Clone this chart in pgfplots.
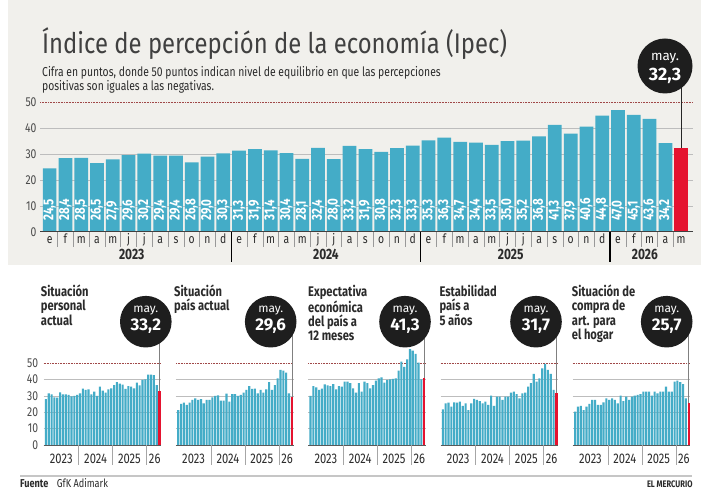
\documentclass[border=0pt]{standalone}
\usepackage{pgfplots}
\pgfplotsset{compat=1.18}
\usepackage{pgfplotstable}
\usepackage{fontspec}
\setmainfont{Fira Sans}
\newfontfamily\cnd{Fira Sans}[FakeStretch=0.8]
\newfontfamily\ttl{Fira Sans}[FakeStretch=0.84]
\definecolor{bg}{HTML}{F1F0EC}
\definecolor{barblue}{HTML}{44ACC7}
\definecolor{barred}{HTML}{E5132F}
\definecolor{txt}{HTML}{2B2B2B}
\definecolor{ticktxt}{HTML}{4A4A4A}
\definecolor{gridc}{HTML}{BDBDBD}
\definecolor{dotred}{HTML}{A04848}
\definecolor{circ}{HTML}{1E1E1E}
\newcommand\fs[1]{\fontsize{#1}{#1}\selectfont}

% Situacion personal actual
\pgfplotstableread[row sep=\\]{
v\\28\\31.6\\31\\29.2\\29\\32.2\\31\\31\\30.6\\29.8\\30\\30.6\\
31.6\\34.5\\33.7\\34\\31\\32.6\\30\\35.7\\33.3\\32\\34\\34.7\\
36.7\\38.4\\37.6\\37\\34.3\\36\\35.7\\34.7\\38.2\\36.5\\39.8\\40.2\\
43\\43\\42.7\\36.7\\
}\pa
% Situacion pais actual
\pgfplotstableread[row sep=\\]{
v\\21.4\\25.1\\25.9\\24.5\\25.9\\27.6\\28.6\\27.6\\28\\25.5\\27.6\\27.6\\
29.2\\30\\30.4\\27.1\\27.1\\31.4\\26.5\\31.2\\31.2\\30\\30.6\\32\\
33.7\\36.1\\34.3\\34.5\\31.6\\33.7\\32\\34\\38.4\\33.7\\36.7\\40.8\\
45.9\\45.5\\44.3\\31.6\\
}\pb
% Expectativa economica del pais a 12 meses
\pgfplotstableread[row sep=\\]{
v\\30\\36.1\\35.3\\33.7\\34.5\\37.1\\36.5\\36.1\\37.3\\34\\36.1\\35.7\\
38.8\\38.8\\37.8\\34.7\\32\\37.8\\32.7\\38.8\\37.8\\34.7\\36.7\\39.4\\
40.8\\41.4\\38.2\\39.8\\40.2\\40.4\\40.8\\45.5\\51\\47.8\\52.4\\58.6\\
57.8\\55.7\\50.4\\40.2\\
}\pc
% Estabilidad pais a 5 anos
\pgfplotstableread[row sep=\\]{
v\\21.8\\25.5\\25.9\\23.5\\26.1\\25.9\\26.5\\23.9\\25.5\\21.4\\25.5\\28.2\\
27.6\\26.9\\25.5\\26.5\\24.5\\30.2\\23.9\\29.6\\29.6\\27.6\\29.6\\29.6\\
32\\32.7\\31.2\\28.6\\31.6\\32\\35.7\\37.8\\43.5\\38.8\\40.8\\46.9\\
49.6\\45.9\\43.5\\33.7\\
}\pd
% Situacion de compra de art. para el hogar
\pgfplotstableread[row sep=\\]{
v\\20.4\\23.5\\23.9\\21.4\\23.5\\25.1\\27.6\\27.6\\24.5\\24.5\\26.1\\28.6\\
27.6\\28.6\\27.6\\25.5\\30.2\\26.9\\29.6\\27.6\\29.6\\30.2\\30.6\\31.2\\
32.7\\32.7\\32.7\\30.2\\32.7\\31.6\\32.7\\32.7\\35.7\\32.7\\32.7\\38.8\\
39.4\\38.4\\37.3\\28.6\\
}\pe

\pgfplotsset{
 smallax/.style={anchor=south west, width=117.6bp, height=98.04bp, scale only axis,
  xmin=-0.8, xmax=40.6, ymin=0, ymax=60, clip=false,
  axis line style={draw=none}, tick style={draw=none},
  xtick=\empty, ytick={0,10,20,30,40}, extra y ticks={50},
  extra y tick style={grid=major, grid style={densely dotted, dotred, line width=0.6pt}},
  ymajorgrids, grid style={gridc, line width=0.6pt},
  yticklabel style={font=\cnd\fs{13}, text=ticktxt, xshift=-2bp},
  /pgf/number format/assume math mode=true},
 nolab/.style={yticklabels={}, extra y tick labels={}}
}

% #1 axis x, #2 table, #3 red value, #4 circle x, #5 title x, #6 title, #7 value text, #8 extra opts
\newcommand\smallpanel[8]{%
\begin{axis}[smallax, at={(#1bp,46bp)}, #8]
\addplot[ybar, bar width=0.74, bar shift=0pt, fill=barblue, draw=none] table[x expr=\coordindex, y=v]{#2};
\addplot[ybar, bar width=0.74, bar shift=0pt, fill=barred, draw=none] coordinates {(40,#3)};
\draw[black!65, line width=0.8pt] (axis cs:-0.8,0) -- (axis cs:40.6,0);
\draw[gray!70, line width=0.6pt] (axis cs:11.5,0) -- ([yshift=-20bp]axis cs:11.5,0);
\draw[gray!70, line width=0.6pt] (axis cs:23.5,0) -- ([yshift=-20bp]axis cs:23.5,0);
\draw[gray!70, line width=0.6pt] (axis cs:35.5,0) -- ([yshift=-20bp]axis cs:35.5,0);
\node[font=\cnd\fs{14}, text=txt, anchor=base] at ([yshift=-18.5bp]axis cs:5.4,0) {2023};
\node[font=\cnd\fs{14}, text=txt, anchor=base] at ([yshift=-18.5bp]axis cs:17.5,0) {2024};
\node[font=\cnd\fs{14}, text=txt, anchor=base] at ([yshift=-18.5bp]axis cs:29.4,0) {2025};
\node[font=\cnd\fs{14}, text=txt, anchor=base] at ([yshift=-18.5bp]axis cs:38.3,0) {26};
\coordinate (rt) at (axis cs:40,#3);
\end{axis}
\draw[gray, line width=0.7pt] (rt) -- (rt |- 0,169.3);
\fill[circ] (#4,169.3) circle (25.8);
\node[white, font=\fs{12}, inner sep=0] at (#4,180.5) {may.};
\node[white, font=\bfseries\fs{17}, inner sep=0] at (#4,165.2) {#7};
\node[anchor=base west, font=\cnd\bfseries\fontsize{14}{14.3}\selectfont, text=txt, inner sep=0] at (#5,194.3)
  {\parbox[t]{120bp}{\raggedright #6}};
}

\begin{document}
\begin{tikzpicture}[x=1bp,y=1bp]
\path[use as bounding box] (0,0) rectangle (707,491);
\fill[white] (0,0) rectangle (707,491);
\fill[bg] (8,226) rectangle (701,491);

\node[anchor=base west, inner sep=0, font=\ttl\fs{28.5}, text=txt!90] at (42,437) {Índice de percepción de la economía (Ipec)};
\node[anchor=base west, inner sep=0, font=\cnd\fs{13}, text=txt] at (42,414)
 {Cifra en puntos, donde 50 puntos indican nivel de equilibrio en que las percepciones};
\node[anchor=base west, inner sep=0, font=\cnd\fs{13}, text=txt] at (42,400)
 {positivas son iguales a las negativas.};

\begin{axis}[
  at={(40bp,259.3bp)}, anchor=south west, width=653bp, height=129.4bp, scale only axis,
  xmin=-0.61, xmax=40.75, ymin=0, ymax=50, clip=false,
  axis line style={draw=none}, tick style={draw=none},
  ytick={0,10,20,30,40}, extra y ticks={50},
  extra y tick style={grid=major, grid style={densely dotted, dotred, line width=0.6pt}},
  ymajorgrids, grid style={gridc, line width=0.6pt},
  xtick={0,...,40},
  xticklabels={e,f,m,a,m,j,j,a,s,o,n,d,e,f,m,a,m,j,j,a,s,o,n,d,e,f,m,a,m,j,j,a,s,o,n,d,e,f,m,a,m},
  xticklabel style={font=\cnd\fs{13}, text=txt, anchor=base, yshift=-12bp},
  yticklabel style={font=\cnd\fs{13}, text=ticktxt},
  /pgf/number format/assume math mode=true,
]
\addplot[ybar, bar width=0.87, bar shift=0pt, fill=barblue, draw=none]
  coordinates {(0,24.5) (1,28.4) (2,28.5) (3,26.5) (4,27.9) (5,29.6)
  (6,30.2) (7,29.4) (8,29.4) (9,26.8) (10,29.0) (11,30.3)
  (12,31.3) (13,31.9) (14,31.4) (15,30.4) (16,28.1) (17,32.4)
  (18,28.0) (19,33.2) (20,31.9) (21,30.8) (22,32.3) (23,33.3)
  (24,35.3) (25,36.3) (26,34.7) (27,34.4) (28,33.5) (29,35.0)
  (30,35.2) (31,36.8) (32,41.3) (33,37.9) (34,40.6) (35,44.8)
  (36,47.0) (37,45.1) (38,43.6) (39,34.2)};
\addplot[ybar, bar width=0.87, bar shift=0pt, fill=barred, draw=none] coordinates {(40,32.3)};
% value labels at the foot of each bar
\addplot[draw=none, mark=none, point meta=explicit,
  nodes near coords={\pgfmathprintnumber[fixed,fixed zerofill,precision=1,use comma,assume math mode=true]{\pgfplotspointmeta}},
  nodes near coords style={rotate=90, anchor=west, text=white, inner sep=0pt, font=\cnd\bfseries\fs{14.5}}]
  coordinates {(0,4.2)[24.5] (1,4.2)[28.4] (2,4.2)[28.5] (3,4.2)[26.5] (4,4.2)[27.9] (5,4.2)[29.6]
  (6,4.2)[30.2] (7,4.2)[29.4] (8,4.2)[29.4] (9,4.2)[26.8] (10,4.2)[29.0] (11,4.2)[30.3]
  (12,4.2)[31.3] (13,4.2)[31.9] (14,4.2)[31.4] (15,4.2)[30.4] (16,4.2)[28.1] (17,4.2)[32.4]
  (18,4.2)[28.0] (19,4.2)[33.2] (20,4.2)[31.9] (21,4.2)[30.8] (22,4.2)[32.3] (23,4.2)[33.3]
  (24,4.2)[35.3] (25,4.2)[36.3] (26,4.2)[34.7] (27,4.2)[34.4] (28,4.2)[33.5] (29,4.2)[35.0]
  (30,4.2)[35.2] (31,4.2)[36.8] (32,4.2)[41.3] (33,4.2)[37.9] (34,4.2)[40.6] (35,4.2)[44.8]
  (36,4.2)[47.0] (37,4.2)[45.1] (38,4.2)[43.6] (39,4.2)[34.2]};
\draw[black!75, line width=0.9pt] (axis cs:-0.61,0) -- (axis cs:40.75,0);
\pgfplotsinvokeforeach{0.5,1.5,2.5,3.5,4.5,5.5,6.5,7.5,8.5,9.5,10.5,12.5,13.5,14.5,15.5,16.5,17.5,18.5,19.5,20.5,21.5,22.5,24.5,25.5,26.5,27.5,28.5,29.5,30.5,31.5,32.5,33.5,34.5,36.5,37.5,38.5,39.5}{
  \draw[gray!80, line width=0.5pt] (axis cs:#1,0) -- ([yshift=-15bp]axis cs:#1,0);
}
\pgfplotsinvokeforeach{11.5,23.5,35.5}{
  \draw[black, line width=1.4pt] (axis cs:#1,0) -- ([yshift=-30bp]axis cs:#1,0);
}
\node[font=\cnd\bfseries\fs{15}, text=txt, anchor=base] at ([yshift=-27.5bp]axis cs:5.2,0) {2023};
\node[font=\cnd\bfseries\fs{15}, text=txt, anchor=base] at ([yshift=-27.5bp]axis cs:17.5,0) {2024};
\node[font=\cnd\bfseries\fs{15}, text=txt, anchor=base] at ([yshift=-27.5bp]axis cs:29.2,0) {2025};
\node[font=\cnd\bfseries\fs{15}, text=txt, anchor=base] at ([yshift=-27.5bp]axis cs:37.7,0) {2026};
\coordinate (mainred) at (axis cs:40,32.3);
\end{axis}
\draw[black!85, line width=1.2pt] (mainred) -- (mainred |- 0,425);
\fill[circ] (665,425) circle (27.5);
\node[white, font=\fs{13.5}, inner sep=0] at (665,433) {may.};
\node[white, font=\bfseries\fs{18}, inner sep=0] at (665,415.5) {32,3};

\smallpanel{43.65}{\pa}{33.2}{145.8}{40.7}{Situación\\personal\\actual}{33,2}{}
\smallpanel{175.95}{\pb}{29.6}{270.7}{174}{Situación\\país actual}{29,6}{nolab}
\smallpanel{308.25}{\pc}{41.3}{405}{308}{Expectativa\\económica\\del país a\\12 meses}{41,3}{nolab}
\smallpanel{440.55}{\pd}{31.7}{536}{439.3}{Estabilidad\\país a\\5 años}{31,7}{nolab}
\smallpanel{572.85}{\pe}{25.7}{666.7}{571.7}{Situación de\\compra de\\art. para\\el hogar}{25,7}{nolab}

\draw[gray!45, line width=2.2pt] (20,15) -- (692,15);
\node[anchor=base west, inner sep=0, font=\cnd\bfseries\fs{11.5}, text=txt] at (20,3.2) {Fuente};
\node[anchor=base west, inner sep=0, font=\cnd\fs{11.5}, text=txt] at (56.7,3.2) {GfK Adimark};
\node[anchor=base east, inner sep=0, font=\cnd\bfseries\fs{9.5}, text=txt] at (692.7,3.2) {EL MERCURIO};
\end{tikzpicture}
\end{document}
